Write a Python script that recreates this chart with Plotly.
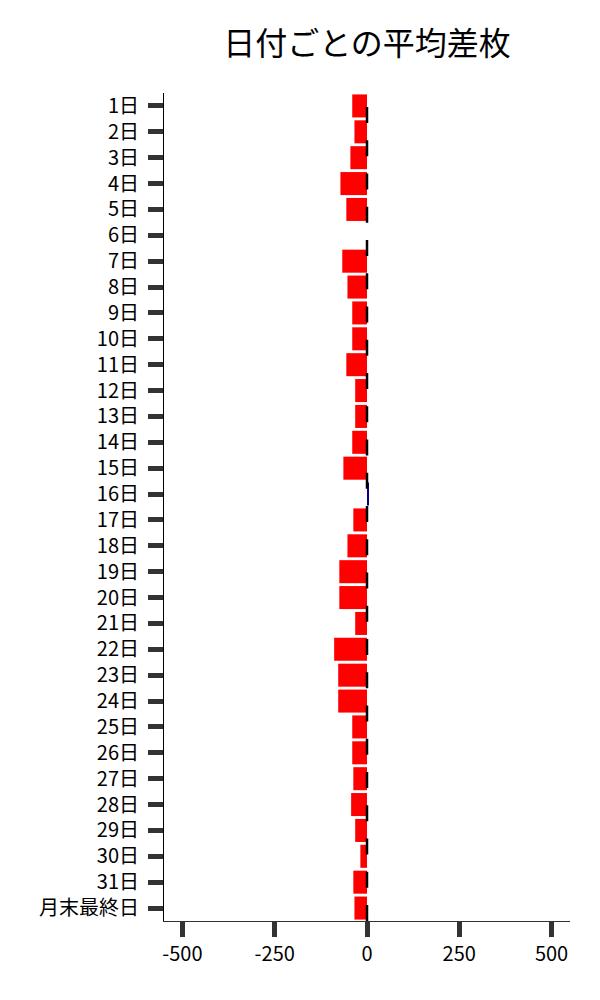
import plotly.graph_objects as go

days = [f"{i}日" for i in range(1, 32)] + ["月末最終日"]

avg_diff = [-40, -34, -45, -72, -56, 0, -67, -53, -40, -40,
            -56, -32, -32, -40, -64, 4, -37, -53, -75, -75,
            -32, -89, -78, -78, -40, -40, -37, -43, -32, -18,
            -37, -34]

x_ticks = [-500, -250, 0, 250, 500]

colors = ["red" if v < 0 else "darkblue" for v in avg_diff]

fig = go.Figure()

fig.add_trace(go.Bar(
    y=days,
    x=avg_diff,
    orientation="h",
    marker=dict(color=colors, line=dict(width=0)),
    showlegend=False,
))

# zero line, dashed, drawn over the bars
fig.add_vline(x=0, line=dict(color="black", width=2.5, dash="16px,17.25px"), layer="above")

tick_style = dict(ticks="outside", ticklen=15, tickwidth=5, tickcolor="#333333")

fig.update_layout(
    width=600,
    height=1000,
    margin=dict(l=156, r=38, t=85, b=87),
    paper_bgcolor="white",
    plot_bgcolor="white",
    font=dict(family="Noto Sans CJK JP", size=20, color="black"),
    bargap=0.11,
    title=dict(
        text="日付ごとの平均差枚",
        x=0.5,
        xref="paper",
        xanchor="center",
        y=0.964,
        yref="container",
        yanchor="middle",
        font=dict(size=32, color="black"),
    ),
    xaxis=dict(
        range=[-550, 550],
        tickvals=x_ticks,
        ticktext=[str(t) for t in x_ticks],
        showgrid=False,
        zeroline=False,
        showline=True,
        linecolor="#333333",
        linewidth=1,
        **tick_style,
    ),
    yaxis=dict(
        type="category",
        categoryorder="array",
        categoryarray=days,
        autorange="reversed",
        showgrid=False,
        zeroline=False,
        showline=True,
        linecolor="black",
        linewidth=1,
        ticklabelstandoff=5,
        **tick_style,
    ),
)

fig.write_html("out.html")
